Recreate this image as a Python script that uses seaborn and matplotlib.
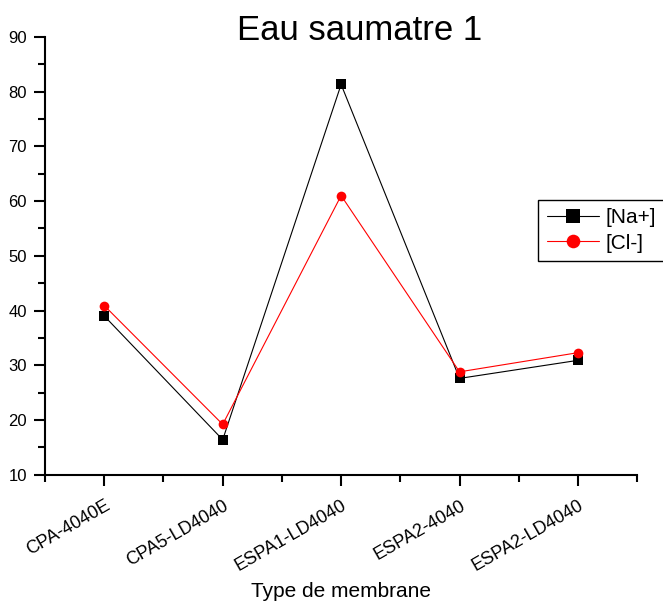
import pandas as pd
import matplotlib.pyplot as plt
import seaborn as sns
from matplotlib.ticker import MultipleLocator

# Data
membranes = ['CPA-4040E', 'CPA5-LD4040', 'ESPA1-LD4040', 'ESPA2-4040', 'ESPA2-LD4040']
na_values = [39.0, 16.4, 81.3, 27.6, 30.9]
cl_values = [40.9, 19.2, 61.0, 28.8, 32.3]

df = pd.DataFrame({
    'membrane': membranes * 2,
    'value': na_values + cl_values,
    'ion': ['[Na+]'] * len(membranes) + ['[Cl-]'] * len(membranes),
})

sns.set_style('ticks')
plt.rcParams['font.family'] = ['Liberation Sans', 'DejaVu Sans']
plt.rcParams['text.color'] = 'black'
plt.rcParams['axes.labelcolor'] = 'black'
plt.rcParams['xtick.color'] = 'black'
plt.rcParams['ytick.color'] = 'black'

fig = plt.figure(figsize=(6.63, 6.04), dpi=100)
ax = fig.add_axes([0.068, 0.214, 0.893, 0.725])

sns.lineplot(data=df, x='membrane', y='value', hue='ion', style='ion',
             palette={'[Na+]': 'black', '[Cl-]': 'red'},
             markers={'[Na+]': 's', '[Cl-]': 'o'}, dashes=False,
             markersize=7, linewidth=0.8, markeredgewidth=0, ax=ax)

ax.set_xlim(-0.5, 4.5)
ax.set_ylim(10, 90)
ax.yaxis.set_major_locator(MultipleLocator(10))
ax.yaxis.set_minor_locator(MultipleLocator(5))
ax.set_xticks(range(len(membranes)))
ax.set_xticks([-0.5, 0.5, 1.5, 2.5, 3.5, 4.5], minor=True)

sns.despine(ax=ax)
for side in ['left', 'bottom']:
    ax.spines[side].set_linewidth(1.5)
    ax.spines[side].set_color('black')

ax.tick_params(axis='both', which='major', length=8, width=1.5, colors='black', labelsize=12)
ax.tick_params(axis='both', which='minor', length=5, width=1.5, colors='black')
ax.tick_params(axis='y', which='major', pad=5)
ax.tick_params(axis='x', which='major', pad=8, labelsize=13)
for lbl in ax.get_xticklabels():
    lbl.set_rotation(30)
    lbl.set_ha('right')
    lbl.set_va('top')
    lbl.set_rotation_mode('anchor')

ax.set_xlabel('Type de membrane', fontsize=15, color='black')
ax.xaxis.set_label_coords(0.5, -0.245)
ax.set_ylabel('')

fig.text(0.543, 0.923, 'Eau saumatre 1', fontsize=25, ha='center', va='bottom', color='black')

leg = ax.legend(loc='upper left', bbox_to_anchor=(0.833, 0.628), frameon=True,
                fancybox=False, fontsize=15, handlelength=2.5, borderpad=0.42,
                labelspacing=0.3, handletextpad=0.33, borderaxespad=0, markerscale=1.4)
leg.get_frame().set_edgecolor('black')
leg.get_frame().set_linewidth(1.0)
leg.get_frame().set_alpha(1)
for t in leg.get_texts():
    t.set_color('black')

plt.savefig('out.png', dpi=100)
